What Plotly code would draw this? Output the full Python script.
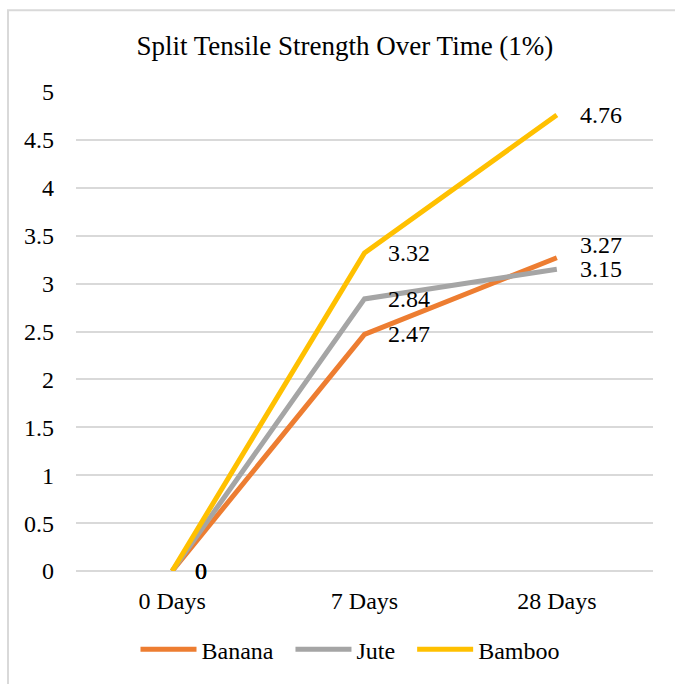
import plotly.graph_objects as go

categories = ["0 Days", "7 Days", "28 Days"]
banana = [0, 2.47, 3.27]
jute = [0, 2.84, 3.15]
bamboo = [0, 3.32, 4.76]
y_ticks = [0, 0.5, 1, 1.5, 2, 2.5, 3, 3.5, 4, 4.5, 5]
y_tick_labels = ["0", "0.5", "1", "1.5", "2", "2.5", "3", "3.5", "4", "4.5", "5"]

series = [
    ("Banana", banana, "#ED7D31"),
    ("Jute", jute, "#A5A5A5"),
    ("Bamboo", bamboo, "#FFC000"),
]
# vertical nudges (px) for specific data labels to avoid overlap
label_yshift = {("Banana", 2): 13}

FONT = "Liberation Serif"

fig = go.Figure()
for k, (name, vals, color) in enumerate(series):
    pad = "&nbsp;&nbsp;" if k < len(series) - 1 else ""
    fig.add_trace(go.Scatter(
        x=categories, y=vals, name=name + pad, mode="lines",
        line=dict(color=color, width=5),
    ))

annotations = []
for name, vals, color in series:
    for i, v in enumerate(vals):
        annotations.append(dict(
            x=categories[i], y=v, xref="x", yref="y",
            text=f"{v:g}", showarrow=False,
            xanchor="left", yanchor="middle",
            xshift=21, yshift=label_yshift.get((name, i), 0),
            font=dict(family=FONT, size=24, color="#000000"),
        ))

fig.update_layout(
    width=675, height=684,
    margin=dict(l=76, r=22, t=92, b=111),
    paper_bgcolor="white", plot_bgcolor="white",
    font=dict(family=FONT, size=24, color="#000000"),
    title=dict(text="Split Tensile Strength Over Time (1%)",
               x=0.511, xanchor="center", y=1 - 46 / 684, yanchor="middle",
               font=dict(family=FONT, size=27, color="#000000")),
    xaxis=dict(type="category", categoryorder="array", categoryarray=categories,
               range=[-0.5, 2.5], showgrid=False, zeroline=False, showline=False,
               ticks="", ticklabelstandoff=13,
               tickfont=dict(family=FONT, size=24, color="#000000")),
    yaxis=dict(range=[0, 5], tickvals=y_ticks, ticktext=y_tick_labels,
               showgrid=True, gridcolor="#D9D9D9", gridwidth=1.5,
               zeroline=True, zerolinecolor="#D9D9D9", zerolinewidth=1.5,
               showline=False, ticks="", ticklabelstandoff=21,
               tickfont=dict(family=FONT, size=24, color="#000000")),
    legend=dict(orientation="h", x=(350 - 76) / 577, xanchor="center",
                y=-(652 - 573) / 481, yanchor="middle",
                font=dict(family=FONT, size=24, color="#000000"),
                itemwidth=56, bgcolor="rgba(0,0,0,0)"),
    annotations=annotations,
    shapes=[dict(type="rect", xref="paper", yref="paper",
                 x0=-(76 - 8) / 577, x1=1.2, y0=-0.5, y1=1 + (92 - 10) / 481,
                 line=dict(color="#D9D9D9", width=2), fillcolor="rgba(0,0,0,0)",
                 layer="below")],
)

fig.write_html("out.html")
